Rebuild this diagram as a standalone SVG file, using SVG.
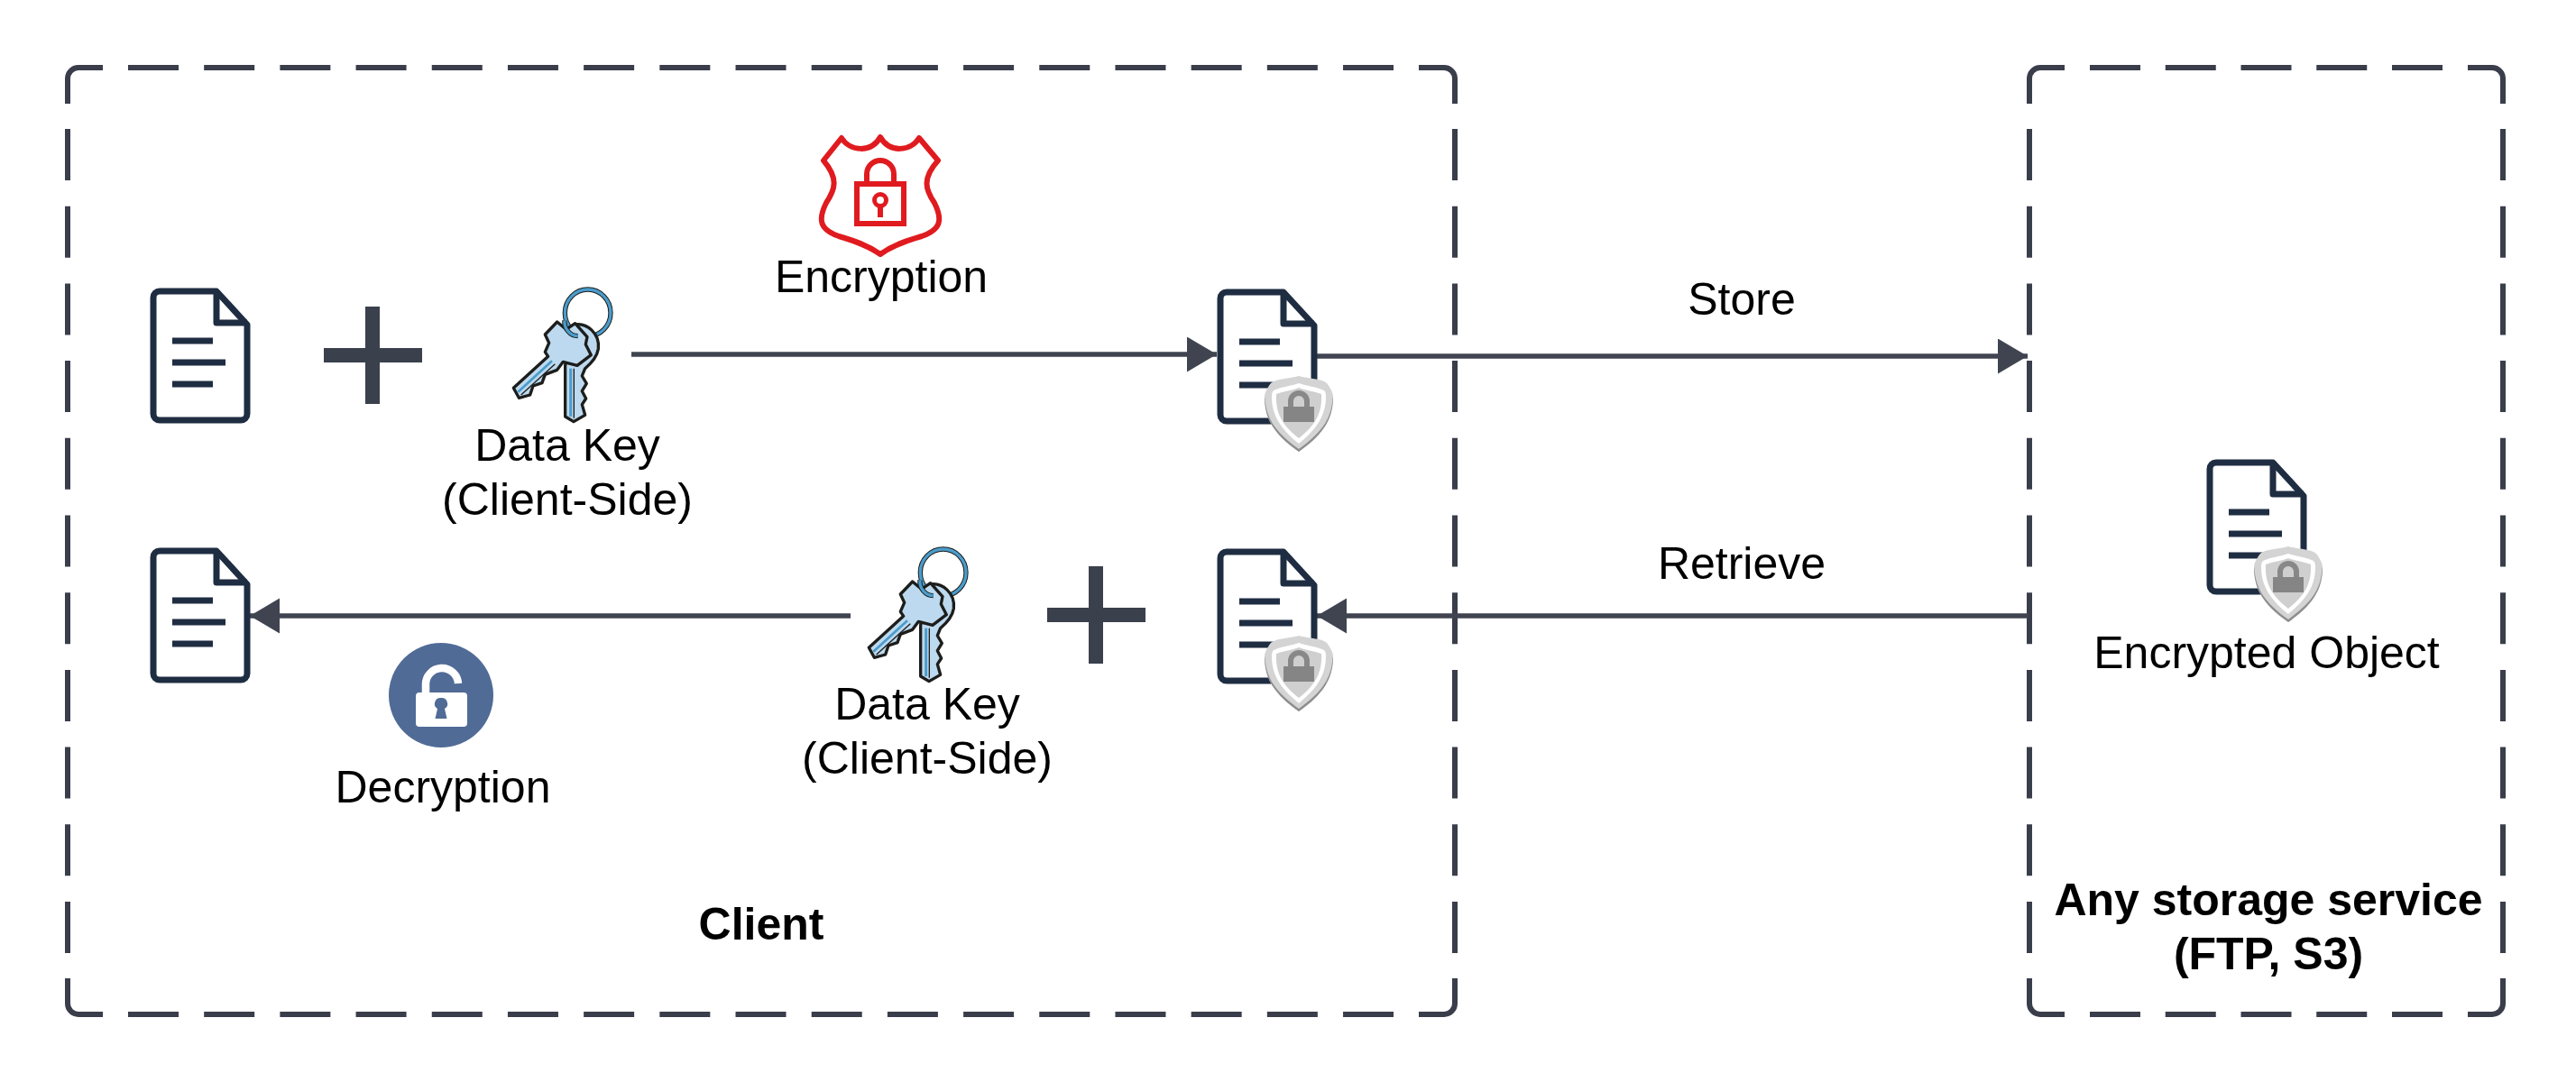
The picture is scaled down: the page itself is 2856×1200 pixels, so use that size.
<svg xmlns="http://www.w3.org/2000/svg" width="2856" height="1200" viewBox="0 0 2856 1200">
<style>
text{font-family:"Liberation Sans",Arial,sans-serif;font-size:50px;fill:#000;text-anchor:middle}
.b{font-weight:700}
.edge{fill:none;stroke:#3a3d4a;stroke-width:6}
.h1{stroke-dasharray:56 28.190}
.h2{stroke-dasharray:56 27.750}
.v{stroke-dasharray:57 28.700}
.conn{fill:none;stroke:#3f4450;stroke-width:5.500}
.plus{fill:#3a404c}
</style>
<defs>
<marker id="ah" markerUnits="userSpaceOnUse" markerWidth="34" markerHeight="40" refX="33" refY="19.500" orient="auto"><path d="M0 0L33 19.500L0 39Z" fill="#3f4450"/></marker>
<g id="doc">
<path d="M10 3H73L107 40V139a7 7 0 0 1-7 7H10a7 7 0 0 1-7-7V10a7 7 0 0 1 7-7Z" fill="#fff" stroke="#1f2d42" stroke-width="7" stroke-linejoin="round"/>
<path d="M73 3V38H107" fill="none" stroke="#1f2d42" stroke-width="7" stroke-linejoin="round"/>
<path d="M24 58H69M24 82H83M24 106H69" fill="none" stroke="#1f2d42" stroke-width="7"/>
</g>
<g id="shield">
<path d="M0 -45C10 -42 26 -42 31 -37C34 -33 38 -27 38 -22C38 0 30 18 0 39C-30 18 -38 0 -38 -22C-38 -27 -34 -33 -31 -37C-26 -42 -10 -42 0 -45Z" fill="#d4d4d4"/>
<path d="M0 39C-30 18 -38 0 -38 -22L-37.500 -20C-36 0 -29 15 0 36C29 15 36 0 37.500 -20L38 -22C38 0 30 18 0 39Z" fill="#8e8e8e"/>
<path d="M0 -37C8 -34 20 -33 28 -29C30 -27 30 -24 30 -22C30 -3 22 12 0 30C-22 12 -30 -3 -30 -22C-30 -24 -30 -27 -28 -29C-20 -33 -8 -34 0 -37Z" fill="#fff"/>
<path d="M0 -32C7 -29 17 -28 25 -25C26 -4 19 9 0 24C-19 9 -26 -4 -25 -25C-17 -28 -7 -29 0 -32Z" fill="#cfcfcf"/>
<path d="M-9 -11V-17A9 9 0 0 1 9 -17V-11" fill="none" stroke="#888" stroke-width="6"/>
<rect x="-17" y="-11" width="34" height="17" fill="#858585"/>
</g>
<g id="key">
<ellipse cx="347" cy="135" rx="76" ry="78" fill="none" stroke="#1d1d1b" stroke-width="16"/>
<ellipse cx="347" cy="135" rx="76" ry="78" fill="none" stroke="#4a9ccb" stroke-width="10"/>
<path d="M300 175C345 165 388 205 382 255C378 280 362 300 338 320L328 345L343 370L328 395L341 420L328 440L338 475L300 497L272 480V310Z" fill="#bcd9ef" stroke="#1d1d1b" stroke-width="10" stroke-linejoin="round"/>
<path d="M290 320V480" stroke="#4a9ccb" stroke-width="9" fill="none"/>
<path d="M301 320V485" stroke="#1d1d1b" stroke-width="4" fill="none"/>
<path d="M245 165L205 207L218 235L205 265L215 280L100 385L118 418L155 408L165 378L195 368L205 340L245 325L265 298L312 310L358 275L340 240L345 215L305 170L275 190Z" fill="#bcd9ef" stroke="#1d1d1b" stroke-width="10" stroke-linejoin="round"/>
<path d="M115 398L228 295" stroke="#4a9ccb" stroke-width="8" fill="none"/>
<path d="M125 408L238 305" stroke="#1d1d1b" stroke-width="4" fill="none"/>
<path d="M270 160C267 185 287 212 314 212" fill="none" stroke="#1d1d1b" stroke-width="16"/>
<path d="M270 160C267 185 287 212 314 212" fill="none" stroke="#4a9ccb" stroke-width="10"/>
</g>
</defs>
<rect width="2856" height="1200" fill="#fff"/>
<g id="client">
<path class="edge" d="M75 115V87A12 12 0 0 1 87 75H114M1573 75H1601A12 12 0 0 1 1613 87V115M75 1085V1113A12 12 0 0 0 87 1125H114M1573 1125H1601A12 12 0 0 0 1613 1113V1085"/>
<path class="edge h1" d="M142 75H1545"/>
<path class="edge h1" d="M142 1125H1545"/>
<path class="edge v" d="M75 143V1057"/>
<path class="edge v" d="M1613 143V1057"/>
<text class="b" x="844" y="1042">Client</text>
</g>
<g id="storage">
<path class="edge" d="M2250 115V87A12 12 0 0 1 2262 75H2289M2736 75H2763A12 12 0 0 1 2775 87V115M2250 1085V1113A12 12 0 0 0 2262 1125H2289M2736 1125H2763A12 12 0 0 0 2775 1113V1085"/>
<path class="edge h2" d="M2317 75H2708"/>
<path class="edge h2" d="M2317 1125H2708"/>
<path class="edge v" d="M2250 143V1057"/>
<path class="edge v" d="M2775 143V1057"/>
<text class="b" x="2515" y="1015">Any storage service</text>
<text class="b" x="2515" y="1075">(FTP, S3)</text>
</g>
<g id="connectors">
<path class="conn" d="M700 393H1349" marker-end="url(#ah)"/>
<path class="conn" d="M1460 395H2248" marker-end="url(#ah)"/>
<path class="conn" d="M2249 683H1460" marker-end="url(#ah)"/>
<path class="conn" d="M943 683H277" marker-end="url(#ah)"/>
</g>
<g id="doc-plain-top"><use href="#doc" x="167" y="320"/></g>
<g id="plus-top"><path class="plus" d="M359 386H405V340H421V386H468V402H421V448H405V402H359Z"/></g>
<g id="key-top"><use href="#key" transform="translate(536 302) scale(.3333)"/><text x="629" y="511">Data Key</text><text x="629" y="571">(Client-Side)</text></g>
<g id="encryption">
<path d="M913 178L933 153C942 168 966 170 976 152C986 170 1010 168 1019 153L1040 178C1022 198 1026 210 1036 225C1046 245 1042 255 1022 262C1005 267 990 272 976 282C962 272 947 267 930 262C910 255 906 245 916 225C926 210 930 198 913 178Z" fill="#fff" stroke="#e01b1f" stroke-width="6" stroke-linejoin="round"/>
<path d="M961 202V193A15 15 0 0 1 991 193V202" fill="none" stroke="#e01b1f" stroke-width="6"/>
<rect x="950" y="204" width="52" height="44" fill="none" stroke="#e01b1f" stroke-width="6"/>
<circle cx="976" cy="222" r="6.500" fill="#fff" stroke="#e01b1f" stroke-width="5"/>
<path d="M976 229V241" stroke="#e01b1f" stroke-width="6"/>
<text x="977" y="324">Encryption</text>
</g>
<g id="doc-encrypted-top"><use href="#doc" x="1350" y="321"/><use href="#shield" x="1440" y="462"/></g>
<g id="doc-plain-bottom"><use href="#doc" x="167" y="608"/></g>
<g id="decryption">
<circle cx="489" cy="771" r="58" fill="#506b96"/>
<path d="M472 772V760A18 18 0 0 1 508 758" fill="none" stroke="#fff" stroke-width="8.500"/>
<rect x="461" y="768" width="57" height="38" rx="4" fill="#fff"/>
<path d="M489 774a6.500 6.500 0 0 1 4 12l2.500 11h-13l2.500-11a6.500 6.500 0 0 1 4-12Z" fill="#506b96"/>
<text x="491" y="890">Decryption</text>
</g>
<g id="key-bottom"><use href="#key" transform="translate(930 590) scale(.3333)"/><text x="1028" y="798">Data Key</text><text x="1028" y="858">(Client-Side)</text></g>
<g id="plus-bottom"><path class="plus" d="M1161 674H1207V628H1223V674H1270V690H1223V736H1207V690H1161Z"/></g>
<g id="doc-encrypted-bottom"><use href="#doc" x="1350" y="609"/><use href="#shield" x="1440" y="750"/></g>
<g id="encrypted-object"><use href="#doc" x="2447" y="510"/><use href="#shield" x="2537" y="651"/><text x="2513" y="741">Encrypted Object</text></g>
<g id="labels"><text x="1931" y="349">Store</text><text x="1931" y="642">Retrieve</text></g>
</svg>
